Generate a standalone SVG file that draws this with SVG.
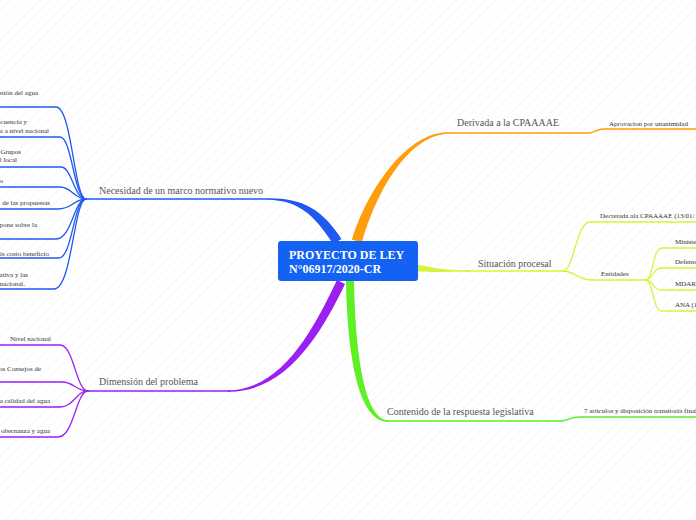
<svg xmlns="http://www.w3.org/2000/svg" width="696" height="520" viewBox="0 0 696 520">
<defs>
<pattern id="bg" width="7" height="7" patternUnits="userSpaceOnUse" patternTransform="rotate(45)">
<line x1="0" y1="0" x2="0" y2="7" stroke="#f0f0f0" stroke-width="1"/>
</pattern>
<style>
.main{font-family:"Liberation Serif","Times New Roman",serif;font-size:10px;fill:#555}
.sub{font-family:"Liberation Serif","Times New Roman",serif;font-size:7px;fill:#333}
.end{text-anchor:end}
.root{font-family:"Liberation Serif","Times New Roman",serif;font-size:12px;font-weight:bold;fill:#fff}
.ln{fill:none;stroke-width:1.3;stroke-linecap:round}
.b{stroke:#2059f2}
.o{stroke:#ff9d0a}
.y{stroke:#d3f53e}
.g{stroke:#5cf025}
.p{stroke:#9c1ff2}
</style>
</defs>
<rect width="696" height="520" fill="#fff"/>
<rect width="696" height="520" fill="url(#bg)"/>

<g id="connectors">
<!-- blue -->
<path d="M341.5 239 C322 209 302 198 268 198.3 L268 199.7 C298 200.5 314 214 333 244 Z" fill="#2059f2"/>
<path class="ln b" d="M268 199 L86 199"/>
<path class="ln b" d="M86 199 C74 199 72 107 56 107 L0 107"/>
<path class="ln b" d="M86 199 C74 199 72 137 60 137 L0 137"/>
<path class="ln b" d="M86 199 C74 199 72 167 61 167 L0 167"/>
<path class="ln b" d="M86 199 C74 199 72 187 60 187 L0 187"/>
<path class="ln b" d="M86 199 C74 199 72 209 58 209 L0 209"/>
<path class="ln b" d="M86 199 C74 199 72 239 56 239 L0 239"/>
<path class="ln b" d="M86 199 C74 199 72 258 59 258 L0 258"/>
<path class="ln b" d="M86 199 C74 199 72 289 54 289 L0 289"/>
<!-- orange -->
<path d="M352 239.8 C366 194 404 133.5 447 132.3 L447 133.7 C406 136.5 375 196 362 242.2 Z" fill="#ff9d0a"/>
<path class="ln o" d="M447 133 L588 133 C595 133 596 129 604 129 L696 129"/>
<!-- yellow-green -->
<path d="M416.7 264.4 C431 267 441 270.3 470 270.3 L470 271.7 C440 271.8 429 272.2 415.3 271.6 Z" fill="#d3f53e"/>
<path class="ln y" d="M465 271 L563 271"/>
<path class="ln y" d="M563 271 C574 271 576 222 590 222 L696 222"/>
<path class="ln y" d="M563 271 C574 271 578 280 592 280 L645 280"/>
<path class="ln y" d="M645 280 C654 280 652 248 662 248 L696 248"/>
<path class="ln y" d="M645 280 C654 280 652 268 662 268 L696 268"/>
<path class="ln y" d="M645 280 C654 280 652 290 662 290 L696 290"/>
<path class="ln y" d="M645 280 C654 280 652 311 662 311 L696 311"/>
<!-- green -->
<path d="M346 281 C347 340 355 422 388 421.7 L388 420.3 C362 419 355 340 354 281 Z" fill="#5cf025"/>
<path class="ln g" d="M386 421 L560 421 C568 421 570 417 580 417 L696 417"/>
<!-- purple -->
<path d="M345 284 C322 332 287 392.5 228 391.7 L228 390.3 C283 389.5 314 328 337 280 Z" fill="#9c1ff2"/>
<path class="ln p" d="M230 391 L88 391"/>
<path class="ln p" d="M88 391 C76 391 74 345 60 345 L0 345"/>
<path class="ln p" d="M88 391 C76 391 74 382 62 382 L0 382"/>
<path class="ln p" d="M88 391 C76 391 74 407 60 407 L0 407"/>
<path class="ln p" d="M88 391 C76 391 74 437 58 437 L0 437"/>
</g>

<g id="root">
<rect x="278" y="241" width="140" height="40" rx="3" fill="#1462f3"/>
<text class="root" x="289" y="259">PROYECTO DE LEY</text>
<text class="root" x="289" y="273">N°06917/2020-CR</text>
</g>

<g id="n-necesidad"><text class="main" x="99" y="193.5">Necesidad de un marco normativo nuevo</text></g>
<g id="n-b1"><text class="sub end" x="38" y="94.5">stión del agua</text></g>
<g id="n-b2"><text class="sub end" x="27" y="124">ecuencia y</text><text class="sub end" x="49" y="132.5">a a nivel nacional</text></g>
<g id="n-b3"><text class="sub end" x="21" y="153.5">Grupos</text><text class="sub end" x="17" y="161.5">l local</text></g>
<g id="n-b4"><text class="sub end" x="3" y="182.5">o</text></g>
<g id="n-b5"><text class="sub end" x="50" y="204.5">de las propuestas</text></g>
<g id="n-b6"><text class="sub end" x="37" y="226.5">pone sobre la</text></g>
<g id="n-b7"><text class="sub end" x="49" y="255.5">is costo beneficio</text></g>
<g id="n-b8"><text class="sub end" x="28" y="276.5">ativa y las</text><text class="sub end" x="25" y="285.5">nacional.</text></g>

<g id="n-dimension"><text class="main" x="99" y="384.5">Dimensión del problema</text></g>
<g id="n-p1"><text class="sub" x="10" y="340.5">Nivel nacional</text></g>
<g id="n-p2"><text class="sub end" x="41" y="370.5">os Consejos de</text></g>
<g id="n-p3"><text class="sub end" x="50" y="403">a calidad del agua</text></g>
<g id="n-p4"><text class="sub end" x="50" y="432.5">obernanza y agua</text></g>

<g id="n-derivada"><text class="main" x="457" y="125.5">Derivada a la CPAAAAE</text></g>
<g id="n-aprov"><text class="sub" x="609" y="125.5">Aprovacion por unanimidad</text></g>

<g id="n-situacion"><text class="main" x="478" y="266.5">Situación procesal</text></g>
<g id="n-decretada"><text class="sub" x="600" y="218">Decretada ala CPAAAAE (13/01/</text></g>
<g id="n-entidades"><text class="sub" x="601" y="276">Entidades</text></g>
<g id="n-e1"><text class="sub" x="675" y="243.5">Ministe</text></g>
<g id="n-e2"><text class="sub" x="675" y="264">Defenso</text></g>
<g id="n-e3"><text class="sub" x="675" y="286">MDAR</text></g>
<g id="n-e4"><text class="sub" x="675" y="306.5">ANA (1</text></g>

<g id="n-contenido"><text class="main" x="387" y="414.5">Contenido de la respuesta legislativa</text></g>
<g id="n-articulos"><text class="sub" x="584" y="413">7 articulos y disposición transitoria final</text></g>
</svg>
